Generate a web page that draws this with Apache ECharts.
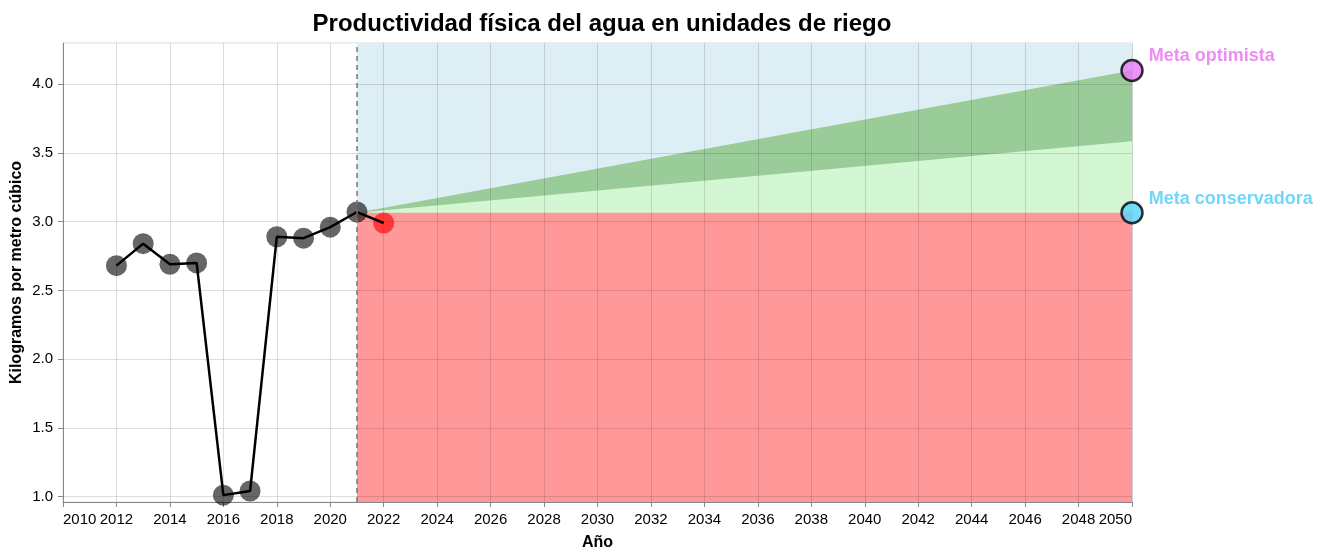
<!DOCTYPE html>
<html>
<head>
<meta charset="utf-8">
<script src="https://cdn.jsdelivr.net/npm/echarts@6/dist/echarts.min.js"></script>
<style>
  html, body { margin: 0; padding: 0; background: #fff; }
  #main { width: 1328px; height: 548px; }
</style>
</head>
<body>
<div id="main"></div>
<script type="text/javascript">
// datos historicos
var anios = [2012, 2013, 2014, 2015, 2016, 2017, 2018, 2019, 2020, 2021];
var productividad = [2.68, 2.84, 2.69, 2.70, 1.01, 1.04, 2.89, 2.88, 2.96, 3.07];
var anioActual = 2022;
var valorActual = 2.99;

// metas al 2050
var anioInicio = 2021;
var anioMeta = 2050;
var metaConservadora = 3.065;
var metaIntermedia = 3.585;
var metaOptimista = 4.1;
var yMin = 0.96;
var yMax = 4.3;
var yTicks = [1.0, 1.5, 2.0, 2.5, 3.0, 3.5, 4.0];

(function(){
    var myChart = echarts.init(document.getElementById('main'));

    var lineaDatos = [];
    for (var i = 0; i < anios.length; i++) {
        lineaDatos.push([anios[i], productividad[i]]);
    }
    lineaDatos.push([anioActual, valorActual]);
    var puntosDatos = lineaDatos.slice(0, anios.length);

    // bandas: cada area rellena hasta el minimo del eje, se pintan de arriba a abajo
    var bandaAzul = [[anioInicio, yMax], [anioMeta, yMax]];
    var bandaVerde = [[anioInicio, metaConservadora], [anioMeta, metaOptimista]];
    var bandaVerdeClaro = [[anioInicio, metaConservadora], [anioMeta, metaIntermedia]];
    var bandaRoja = [[anioInicio, metaConservadora], [anioMeta, metaConservadora]];

    function banda(nombre, datos, color) {
        return {
            name: nombre,
            type: 'line',
            data: datos,
            symbol: 'none',
            lineStyle: { width: 0, opacity: 0 },
            areaStyle: { color: color, opacity: 1, origin: 'start' },
            silent: true,
            z: 1
        };
    }

    var option = {
        animation: false,
        textStyle: { fontFamily: 'Liberation Sans, Arial, sans-serif' },
        title: {
            text: 'Productividad física del agua en unidades de riego',
            left: 597,
            top: 7,
            textAlign: 'center',
            textStyle: { fontSize: 24, fontWeight: 'bold', color: '#000' }
        },
        grid: {
            left: 63, right: 196, top: 43, bottom: 46,
            containLabel: false,
            outerBoundsMode: 'none',
            show: true, borderColor: '#dddddd', borderWidth: 1, backgroundColor: '#fff'
        },
        xAxis: {
            type: 'value',
            min: 2010,
            max: 2050,
            interval: 2,
            z: 2,
            name: 'Año',
            nameLocation: 'middle',
            nameGap: 33,
            nameMoveOverlap: false,
            nameTextStyle: { fontSize: 16, fontWeight: 'bold', color: '#000' },
            axisLine: { show: true, lineStyle: { color: '#888', width: 1 } },
            axisTick: { show: true, length: 5, lineStyle: { color: '#888' } },
            axisLabel: {
                color: '#000', fontSize: 15, margin: 10,
                alignMinLabel: 'left', alignMaxLabel: 'right',
                formatter: function (v) { return String(v); }
            },
            splitLine: { show: true, lineStyle: { color: 'rgba(0,0,0,0.13)', width: 1 } }
        },
        yAxis: {
            type: 'value',
            min: yMin,
            max: yMax,
            z: 2,
            name: 'Kilogramos por metro cúbico',
            nameLocation: 'middle',
            nameGap: 38,
            nameMoveOverlap: false,
            nameTextStyle: { fontSize: 16, fontWeight: 'bold', color: '#000' },
            axisLine: { show: true, lineStyle: { color: '#888', width: 1 } },
            axisTick: { show: true, length: 5, lineStyle: { color: '#888' }, customValues: yTicks },
            axisLabel: {
                color: '#000', fontSize: 15, margin: 10,
                customValues: yTicks,
                formatter: function (v) { return v.toFixed(1); }
            },
            splitLine: { show: true, lineStyle: { color: 'rgba(0,0,0,0.13)', width: 1 } }
        },
        series: [
            banda('azul', bandaAzul, '#ddeef5'),
            banda('verde', bandaVerde, '#99cc99'),
            banda('verde claro', bandaVerdeClaro, '#d3f7d3'),
            banda('roja', bandaRoja, '#ff9999'),
            {
                name: 'corte',
                type: 'line',
                data: [],
                silent: true,
                z: 3,
                markLine: {
                    symbol: 'none',
                    silent: true,
                    label: { show: false },
                    lineStyle: { color: '#777', type: [5, 4], width: 1.5 },
                    data: [{ xAxis: anioInicio }]
                }
            },
            {
                name: 'historico',
                type: 'scatter',
                data: puntosDatos,
                symbolSize: 21,
                itemStyle: { color: 'rgba(0,0,0,0.75)' },
                z: 3
            },
            {
                name: 'actual',
                type: 'scatter',
                data: [[anioActual, valorActual]],
                symbolSize: 21,
                itemStyle: { color: 'rgba(255,0,0,0.8)' },
                z: 3
            },
            {
                name: 'linea',
                type: 'line',
                data: lineaDatos,
                showSymbol: false,
                lineStyle: { color: '#000', width: 2.5 },
                z: 4
            },
            {
                name: 'Meta optimista',
                type: 'scatter',
                data: [[anioMeta, metaOptimista]],
                symbolSize: 21,
                itemStyle: { color: '#e779f8', borderColor: '#000', borderWidth: 2.5 },
                label: {
                    show: true, position: 'right', offset: [0, -14],
                    formatter: 'Meta optimista',
                    color: '#e870f0', fontSize: 18, fontWeight: 'bold'
                },
                z: 5
            },
            {
                name: 'Meta conservadora',
                type: 'scatter',
                data: [[anioMeta, metaConservadora]],
                symbolSize: 21,
                itemStyle: { color: '#55d4fa', borderColor: '#000', borderWidth: 2.5 },
                label: {
                    show: true, position: 'right', offset: [0, -14],
                    formatter: 'Meta conservadora',
                    color: '#4fcbf7', fontSize: 18, fontWeight: 'bold'
                },
                z: 5
            }
        ]
    };

    myChart.setOption(option);
})();
</script>
</body>
</html>
